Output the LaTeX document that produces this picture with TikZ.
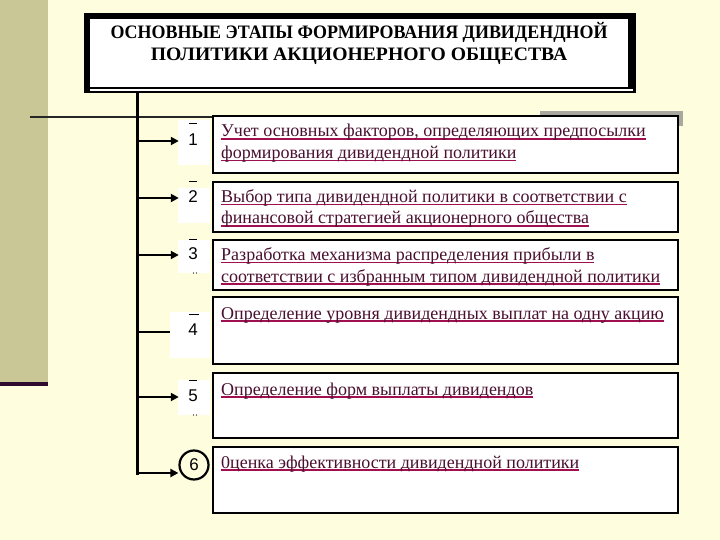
\documentclass[tikz,border=0pt]{standalone}
\usepackage{fontspec}
\setmainfont{Liberation Serif}
\newfontfamily\numfont{Liberation Sans}
\usetikzlibrary{arrows.meta}
\definecolor{bg}{HTML}{FEFEDF}
\definecolor{stripe}{HTML}{C8C795}
\definecolor{stripeline}{HTML}{2E0A2E}
\definecolor{txt}{HTML}{4A1030}
\definecolor{ulc}{HTML}{A01050}
\definecolor{shadowgrey}{HTML}{A8A8A0}
\newcommand\ulline[1]{\setbox0\hbox{#1}\rlap{\color{ulc}\rule[-2.6pt]{\wd0}{1.3pt}}\box0}
\begin{document}
\begin{tikzpicture}[x=1pt,y=-1pt,
  stagebox/.style={draw=black, line width=2.5pt, fill=white},
  stagetext/.style={anchor=base west, align=left, inner sep=0pt, font=\fontsize{18}{21.5}\selectfont, text=txt},
  numlabel/.style={font=\numfont\fontsize{17}{17}\selectfont, inner sep=0pt, minimum width=28pt},
  patch/.style={fill=white},
  branch/.style={line width=2.8pt, -{Triangle[length=8pt,width=8pt]}},
  tick/.style={line width=0.8pt},
]
\useasboundingbox (0,0) rectangle (720,540);
\fill[bg] (0,0) rectangle (720,540);
\fill[stripe] (0,0) rectangle (48,382);
\fill[stripeline] (0,382) rectangle (48,386);

% title frame
\fill[black] (84,13) rectangle (636,93.5);
\fill[white] (90,19) rectangle (628,87);
\fill[white] (90,88.6) rectangle (633,90.6);
\node[align=center, anchor=base, inner sep=0pt, font=\bfseries\fontsize{19}{22}\selectfont] (title) at (359,61)
  {\scalebox{0.945}[1]{ОСНОВНЫЕ ЭТАПЫ ФОРМИРОВАНИЯ ДИВИДЕНДНОЙ}\\\scalebox{1.035}[1]{ПОЛИТИКИ АКЦИОНЕРНОГО ОБЩЕСТВА}};

% horizontal rule and shadow
\draw[line width=2pt, black!85] (30,117) -- (213,117);
\fill[shadowgrey] (540,111) rectangle (683,116);
\fill[shadowgrey] (678,111) rectangle (683,126);

% stage boxes
\draw[stagebox] (213,116) rectangle (678,173);
\draw[stagebox] (213,182) rectangle (678,232);
\draw[stagebox] (213,240) rectangle (678,290);
\draw[stagebox] (213,297) rectangle (678,364);
\draw[stagebox] (213,373) rectangle (678,438);
\draw[stagebox] (213,447) rectangle (678,513);

\node[stagetext] (t1) at (221,158.5) {\ulline{Учет основных факторов, определяющих предпосылки}\\\ulline{формирования дивидендной политики}};
\node[stagetext] (t2) at (221,224) {\ulline{Выбор типа дивидендной политики в соответствии с}\\\ulline{финансовой стратегией акционерного общества}};
\node[stagetext] (t3) at (221,282) {\ulline{Разработка механизма распределения прибыли в}\\\ulline{соответствии с избранным типом дивидендной политики}};
\node[stagetext] (t4) at (221,319) {\ulline{Определение уровня дивидендных выплат на одну акцию}};
\node[stagetext] (t5) at (221,395) {\ulline{Определение форм выплаты дивидендов}};
\node[stagetext] (t6) at (221,468) {\ulline{0ценка эффективности дивидендной политики}};

% number patches
\fill[patch] (178,120) rectangle (210,165);
\fill[patch] (178,188) rectangle (210,223);
\fill[patch] (178,240) rectangle (210,273);
\fill[patch] (170,312) rectangle (210,358);
\fill[patch] (178,380) rectangle (210,415);

\node[numlabel] (n1) at (193,140) {1};
\node[numlabel] (n2) at (193,197) {2};
\node[numlabel] (n3) at (193,254) {3};
\node[numlabel] (n4) at (193,330) {4};
\node[numlabel] (n5) at (193,396) {5};
\node[circle, draw=black, line width=2.2pt, minimum size=29pt, inner sep=0pt, font=\numfont\fontsize{17}{17}\selectfont] (n6) at (194,465) {6};

% ticks and dots near numbers
\draw[tick] (189,123) -- (197,123);
\draw[tick] (189,181) -- (197,181);
\draw[tick] (189,239) -- (197,239);
\draw[tick] (189,314) -- (199,314);
\draw[tick] (189,380) -- (197,380);
\fill (193.5,273) circle (0.6pt) (196.5,273) circle (0.6pt);
\fill (193.5,415) circle (0.6pt) (196.5,415) circle (0.6pt);

% trunk
\coordinate (top) at (137,93.5);
\coordinate (b1) at (137,141);
\coordinate (b2) at (137,198);
\coordinate (b3) at (137,255);
\coordinate (b4) at (137,332);
\coordinate (b5) at (137,397);
\coordinate (b6) at (137,473);
\draw[line width=3pt] (top) -- ([yshift=-1.5pt]b6);

\draw[branch] (b1) -- (b1 -| n1.west);
\draw[branch] (b2) -- (b2 -| n2.west);
\draw[branch] (b3) -- (b3 -| n3.west);
\draw[line width=2.8pt, shorten >=9pt] (b4) -- (b4 -| n4.west);
\draw[branch] (b5) -- (b5 -| n5.west);
\draw[branch] (b6) -- (b6 -| n6.west);
\end{tikzpicture}
\end{document}
